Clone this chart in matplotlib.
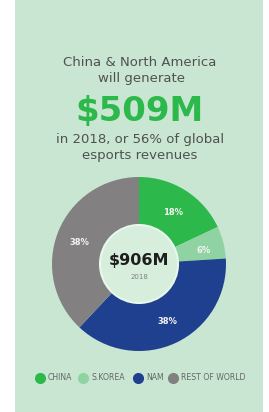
import matplotlib
matplotlib.use("Agg")
import matplotlib.pyplot as plt
import numpy as np
from matplotlib.patches import Rectangle, Circle

categories = ["CHINA", "S.KOREA", "NAM", "REST OF WORLD"]
shares = [18, 6, 38, 38]
colors = ["#2db84c", "#8fd3a3", "#1f408e", "#828080"]
total_label = "$906M"
year_label = "2018"

W, H = 269, 412
fig = plt.figure(figsize=(W / 100, H / 100), dpi=100)
fig.patch.set_facecolor("white")

bg = "#c9e6d2"
bax = fig.add_axes([0, 0, 1, 1], zorder=-10)
bax.set_xlim(0, W)
bax.set_ylim(H, 0)
bax.axis("off")
bax.add_patch(Rectangle((15, 0), 263 - 15, H, facecolor=bg, edgecolor="none"))

font = "DejaVu Sans"
txt = "#505050"
bax.text(140, 62, "China & North America", ha="center", va="center", fontsize=9.5, color=txt, family=font)
bax.text(141, 78, "will generate", ha="center", va="center", fontsize=9.5, color=txt, family=font)
bax.text(140, 111, "$509M", ha="center", va="center", fontsize=24.5, color="#2db84c",
         family=font, fontweight="bold")
bax.text(140, 140, "in 2018, or 56% of global", ha="center", va="center", fontsize=9.5, color=txt, family=font)
bax.text(140, 155, "esports revenues", ha="center", va="center", fontsize=9.5, color=txt, family=font)

cx, cy, R, r = 139, 264, 87, 39
ax = fig.add_axes([(cx - 90) / W, 1 - (cy + 90) / H, 180 / W, 180 / H], zorder=1)
ax.pie(shares, colors=colors, startangle=90, counterclock=False, radius=R,
       wedgeprops=dict(width=R - r, edgecolor="none"))
ax.set_xlim(-90, 90)
ax.set_ylim(-90, 90)
ax.set_aspect("equal")
ax.axis("off")
ax.add_patch(Circle((0, 0), r, facecolor="#d7eedd", edgecolor="#e8f6ec", linewidth=1.5, zorder=3))
ax.text(0, 4, total_label, ha="center", va="center", fontsize=11.5, fontweight="bold", color="#1e1e1e",
        family=font, zorder=4)
ax.text(0, -13, year_label, ha="center", va="center", fontsize=5, color="#808080", family=font, zorder=4)

# label placement (angle, radius) per wedge
label_pos = [(57, 62), (12, 66), (-64, 64), (160, 63)]
for s, (ang, lr) in zip(shares, label_pos):
    x = lr * np.cos(np.radians(ang))
    y = lr * np.sin(np.radians(ang))
    ax.text(x, y, f"{s}%", ha="center", va="center", fontsize=6, fontweight="bold", color="#f4f4f4",
            family=font, zorder=4)

# legend
leg_y = 378
items_x = [40, 83, 138, 173]
for name, col, x in zip(categories, colors, items_x):
    bax.plot([x], [leg_y], marker="o", markersize=7, color=col, linestyle="none")
    bax.text(x + 8, leg_y, name, ha="left", va="center", fontsize=5.6, color="#666666", family=font)

fig.savefig("out.png", dpi=100, facecolor="white")
